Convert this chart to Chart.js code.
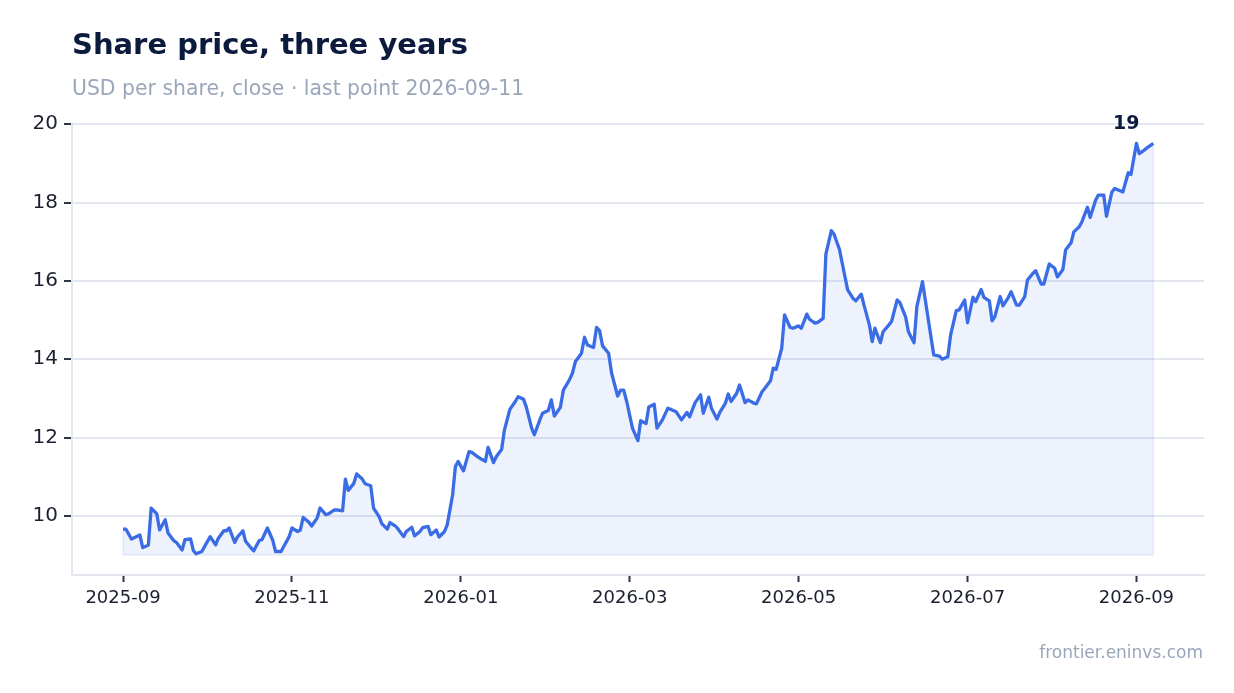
<!DOCTYPE html>
<html>
<head>
<meta charset="utf-8">
<title>Share price, three years</title>
<script src="https://cdn.jsdelivr.net/npm/chart.js@4.4.1/dist/chart.umd.min.js"></script>
<style>
  html, body { margin: 0; padding: 0; background: #ffffff; }
  #wrap { position: relative; width: 1234px; height: 693px; }
</style>
</head>
<body>
<div id="wrap"><canvas id="grafico" width="1234" height="693"></canvas></div>
<script>
// textos
const titulo = 'Share price, three years';
const subtitulo = 'USD per share, close \u00b7 last point 2026-09-11';
const rodape = 'frontier.eninvs.com';
const rotuloFinal = '19';

// eixos
const xTickLabels = ['2025-09', '2025-11', '2026-01', '2026-03', '2026-05', '2026-07', '2026-09'];
const yTicks = [10, 12, 14, 16, 18, 20];
const baseFill = 9;

// datas de fechamento
const datas = [
  '2025-09-01','2025-09-02','2025-09-04','2025-09-07','2025-09-08','2025-09-10','2025-09-11','2025-09-13','2025-09-14','2025-09-16','2025-09-17','2025-09-19','2025-09-20','2025-09-22','2025-09-23','2025-09-25','2025-09-26','2025-09-27','2025-09-29','2025-09-30',
  '2025-10-02','2025-10-04','2025-10-05','2025-10-07','2025-10-08','2025-10-09','2025-10-11','2025-10-12','2025-10-14','2025-10-15','2025-10-17','2025-10-18','2025-10-20','2025-10-21','2025-10-23','2025-10-25','2025-10-26','2025-10-28','2025-10-29','2025-10-31',
  '2025-11-01','2025-11-03','2025-11-04','2025-11-05','2025-11-07','2025-11-08','2025-11-10','2025-11-11','2025-11-13','2025-11-14','2025-11-16','2025-11-17','2025-11-19','2025-11-20','2025-11-21','2025-11-23','2025-11-24','2025-11-26','2025-11-27','2025-11-29','2025-11-30',
  '2025-12-02','2025-12-03','2025-12-05','2025-12-06','2025-12-08','2025-12-09','2025-12-11','2025-12-12','2025-12-14','2025-12-15','2025-12-17','2025-12-18','2025-12-20','2025-12-21','2025-12-23','2025-12-24','2025-12-26','2025-12-27','2025-12-29','2025-12-30','2025-12-31',
  '2026-01-02','2026-01-04','2026-01-05','2026-01-07','2026-01-08','2026-01-10','2026-01-11','2026-01-13','2026-01-14','2026-01-16','2026-01-17','2026-01-19','2026-01-21','2026-01-22','2026-01-24','2026-01-25','2026-01-27','2026-01-28','2026-01-30','2026-01-31',
  '2026-02-02','2026-02-03','2026-02-04','2026-02-06','2026-02-07','2026-02-09','2026-02-10','2026-02-11','2026-02-13','2026-02-14','2026-02-15','2026-02-17','2026-02-18','2026-02-19','2026-02-20','2026-02-22','2026-02-23','2026-02-25','2026-02-26','2026-02-27','2026-02-28',
  '2026-03-02','2026-03-04','2026-03-05','2026-03-07','2026-03-08','2026-03-10','2026-03-11','2026-03-13','2026-03-15','2026-03-16','2026-03-18','2026-03-20','2026-03-22','2026-03-23','2026-03-25','2026-03-27','2026-03-28','2026-03-30','2026-03-31',
  '2026-04-02','2026-04-03','2026-04-05','2026-04-06','2026-04-07','2026-04-09','2026-04-10','2026-04-12','2026-04-13','2026-04-15','2026-04-16','2026-04-18','2026-04-19','2026-04-21','2026-04-22','2026-04-23','2026-04-25','2026-04-26','2026-04-28','2026-04-29',
  '2026-05-01','2026-05-02','2026-05-04','2026-05-05','2026-05-07','2026-05-08','2026-05-10','2026-05-11','2026-05-13','2026-05-14','2026-05-16','2026-05-17','2026-05-19','2026-05-21','2026-05-22','2026-05-24','2026-05-25','2026-05-27','2026-05-28','2026-05-29','2026-05-31',
  '2026-06-01','2026-06-03','2026-06-04','2026-06-06','2026-06-07','2026-06-09','2026-06-10','2026-06-12','2026-06-13','2026-06-15','2026-06-16','2026-06-18','2026-06-19','2026-06-21','2026-06-22','2026-06-24','2026-06-25','2026-06-27','2026-06-28','2026-06-30',
  '2026-07-01','2026-07-03','2026-07-04','2026-07-06','2026-07-07','2026-07-09','2026-07-10','2026-07-11','2026-07-13','2026-07-14','2026-07-16','2026-07-17','2026-07-19','2026-07-20','2026-07-22','2026-07-23','2026-07-25','2026-07-26','2026-07-28','2026-07-29','2026-07-31',
  '2026-08-02','2026-08-03','2026-08-05','2026-08-06','2026-08-08','2026-08-09','2026-08-11','2026-08-12','2026-08-14','2026-08-15','2026-08-17','2026-08-18','2026-08-20','2026-08-21','2026-08-23','2026-08-24','2026-08-26','2026-08-27','2026-08-29','2026-08-30',
  '2026-09-01','2026-09-02','2026-09-04','2026-09-05','2026-09-07'
];

// preço de fechamento (USD)
const precos = [
  9.66, 9.66, 9.41, 9.51, 9.19, 9.25, 10.2, 10.05, 9.64, 9.9, 9.56, 9.37, 9.32, 9.13, 9.39, 9.41, 9.11, 9.03, 9.09, 9.22,
  9.47, 9.26, 9.43, 9.62, 9.62, 9.69, 9.32, 9.46, 9.62, 9.35, 9.18, 9.11, 9.37, 9.39, 9.69, 9.37, 9.09, 9.09, 9.22, 9.47,
  9.69, 9.6, 9.64, 9.96, 9.84, 9.74, 9.95, 10.2, 10.03, 10.05, 10.15, 10.15, 10.13, 10.94, 10.65, 10.83, 11.07, 10.94, 10.82, 10.77, 10.2,
  9.98, 9.8, 9.66, 9.83, 9.74, 9.66, 9.47, 9.6, 9.71, 9.49, 9.6, 9.7, 9.73, 9.52, 9.64, 9.46, 9.6, 9.77, 10.54, 11.26, 11.39,
  11.15, 11.64, 11.62, 11.52, 11.47, 11.39, 11.75, 11.36, 11.51, 11.7, 12.19, 12.72, 12.92, 13.04, 12.98, 12.79, 12.24, 12.07, 12.45, 12.62,
  12.69, 12.96, 12.55, 12.77, 13.21, 13.47, 13.64, 13.94, 14.15, 14.56, 14.36, 14.3, 14.81, 14.73, 14.34, 14.15, 13.64, 13.06, 13.21, 13.21, 12.92,
  12.24, 11.92, 12.43, 12.36, 12.78, 12.85, 12.24, 12.45, 12.75, 12.72, 12.66, 12.45, 12.64, 12.53, 12.89, 13.09, 12.62, 13.03, 12.75,
  12.47, 12.64, 12.88, 13.11, 12.92, 13.13, 13.34, 12.89, 12.96, 12.88, 12.86, 13.17, 13.26, 13.45, 13.77, 13.74, 14.28, 15.13, 14.81, 14.79,
  14.85, 14.79, 15.15, 15.02, 14.92, 14.94, 15.04, 16.68, 17.28, 17.19, 16.8, 16.45, 15.77, 15.55, 15.49, 15.66, 15.38, 14.87, 14.45, 14.79, 14.42,
  14.7, 14.87, 14.96, 15.51, 15.44, 15.08, 14.7, 14.42, 15.34, 15.98, 15.51, 14.57, 14.11, 14.08, 14.0, 14.06, 14.62, 15.24, 15.26, 15.51,
  14.93, 15.58, 15.47, 15.78, 15.58, 15.49, 14.98, 15.08, 15.6, 15.36, 15.58, 15.72, 15.38, 15.38, 15.6, 16.02, 16.19, 16.26, 15.92, 15.92, 16.43,
  16.32, 16.1, 16.29, 16.79, 16.97, 17.25, 17.38, 17.51, 17.88, 17.62, 18.06, 18.19, 18.19, 17.65, 18.27, 18.36, 18.3, 18.27, 18.76, 18.72,
  19.51, 19.25, 19.35, 19.41, 19.51
];

const corLinha = '#3a6ce6';
const corTexto = '#1b2030';
const corTitulo = '#0c1a3d';
const corCinza = '#9aa6ba';
const corGrade = '#e3e7ef';

// cada mês ocupa a mesma largura no eixo x
function mesDecimal(s){
    let p = s.split('-').map(Number);
    let diasMes = new Date(p[0], p[1], 0).getDate();
    let dia = p[2] ? p[2] : 1;
    return (p[0] - 2025) * 12 + (p[1] - 9) + (dia - 1) / diasMes;
}

const pontos = datas.map((d, i) => ({ x: mesDecimal(d), y: precos[i] }));
const xTickVals = xTickLabels.map(mesDecimal);

Chart.defaults.font.family = "'DejaVu Sans', 'Noto Sans', sans-serif";

// contorno suave da área preenchida
const contornoArea = {
    id: 'contornoArea',
    beforeDatasetsDraw(chart){
        const meta = chart.getDatasetMeta(0);
        const pri = meta.data[0];
        const ult = meta.data[meta.data.length - 1];
        const yBase = chart.scales.y.getPixelForValue(baseFill);
        const ctx = chart.ctx;
        ctx.save();
        ctx.strokeStyle = 'rgba(58,108,230,0.10)';
        ctx.lineWidth = 1.5;
        ctx.beginPath();
        ctx.moveTo(pri.x, pri.y);
        ctx.lineTo(pri.x, yBase);
        ctx.lineTo(ult.x, yBase);
        ctx.lineTo(ult.x, ult.y);
        ctx.stroke();
        ctx.restore();
    }
};

const textos = {
    id: 'textos',
    afterDraw(chart){
        const ctx = chart.ctx;
        ctx.save();
        ctx.textBaseline = 'alphabetic';
        ctx.textAlign = 'left';
        ctx.fillStyle = corTitulo;
        ctx.font = "bold 29px 'DejaVu Sans'";
        ctx.fillText(titulo, 72, 54);
        ctx.fillStyle = corCinza;
        ctx.font = "20.4px 'DejaVu Sans'";
        ctx.fillText(subtitulo, 72, 95);
        ctx.textAlign = 'right';
        ctx.font = "17px 'DejaVu Sans'";
        ctx.fillText(rodape, 1203, 658);
        // rótulo do último ponto
        const meta = chart.getDatasetMeta(0);
        const ult = meta.data[meta.data.length - 1];
        ctx.textAlign = 'center';
        ctx.fillStyle = corTitulo;
        ctx.font = "bold 19px 'DejaVu Sans'";
        ctx.fillText(rotuloFinal, ult.x - 27, ult.y - 14);
        ctx.restore();
    }
};

const lin = document.getElementById('grafico');
const lineChart = new Chart(lin, {
    type: 'line',
    data: {
        datasets: [
            {
                label: 'Close',
                data: pontos,
                borderColor: corLinha,
                borderWidth: 3.3,
                backgroundColor: 'rgba(58,108,230,0.09)',
                fill: { value: baseFill },
                pointRadius: 0,
                tension: 0,
                borderJoinStyle: 'round'
            }
        ]
    },
    options: {
        responsive: false,
        animation: false,
        layout: { padding: { top: 123, right: 30, bottom: 0, left: 0 } },
        plugins: {
            legend: { display: false },
            tooltip: { enabled: false }
        },
        scales: {
            x: {
                type: 'linear',
                min: -0.604,
                max: 12.8,
                afterBuildTicks: (s) => { s.ticks = xTickVals.map(v => ({ value: v })); },
                afterFit: (s) => { s.height = 118; },
                ticks: {
                    color: corTexto,
                    font: { size: 18 },
                    padding: 6,
                    maxRotation: 0,
                    callback: (v) => {
                        let i = xTickVals.findIndex(t => Math.abs(t - v) < 1e-6);
                        return i >= 0 ? xTickLabels[i] : '';
                    }
                },
                grid: {
                    drawOnChartArea: false,
                    drawTicks: true,
                    tickLength: 7,
                    tickWidth: 2,
                    tickColor: '#2e3445'
                },
                border: { color: corGrade, width: 2 }
            },
            y: {
                min: 8.49,
                max: 20.03,
                afterBuildTicks: (s) => { s.ticks = yTicks.map(v => ({ value: v })); },
                afterFit: (s) => { s.width = 72; },
                ticks: {
                    color: corTexto,
                    font: { size: 20 },
                    padding: 6
                },
                grid: {
                    color: corGrade,
                    lineWidth: 2,
                    tickLength: 8,
                    tickWidth: 2,
                    tickColor: '#2e3445'
                },
                border: { color: corGrade, width: 2 }
            }
        }
    },
    plugins: [contornoArea, textos]
});
</script>
</body>
</html>
